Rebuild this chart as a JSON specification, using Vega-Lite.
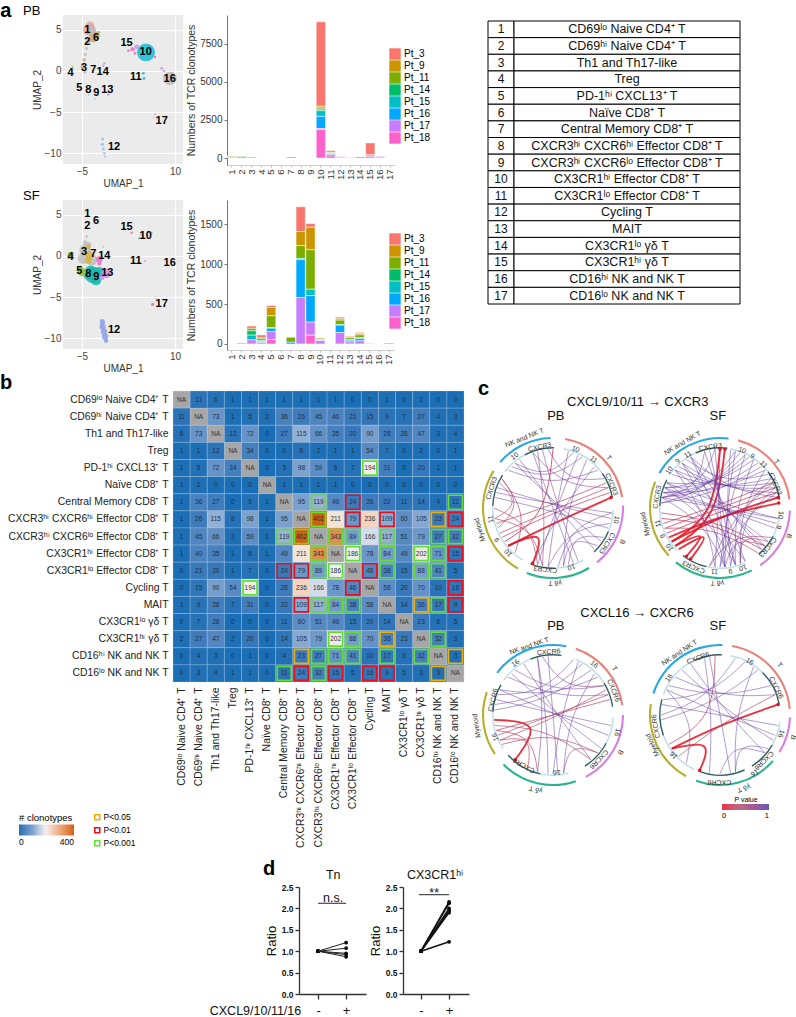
{"$schema":"https://vega.github.io/schema/vega-lite/v6.json","padding":0,"background":"white","config":{"font":"Liberation Sans","view":{"stroke":null},"axis":{"labelFont":"Liberation Sans","titleFont":"Liberation Sans","titleFontWeight":"normal","labelOverlap":false},"legend":{"labelFont":"Liberation Sans","titleFont":"Liberation Sans","titleFontWeight":"normal"}},
"datasets":{
"umapPB":[{"x":-3.81,"y":4.98,"g":"salmon","n":110},{"x":-3.7,"y":5.5,"g":"salmon","n":50},{"x":-3.33,"y":4.78,"g":"gray","n":50},{"x":-3.16,"y":3.97,"g":"tan","n":45},{"x":-2.73,"y":4.29,"g":"tan","n":40},{"x":-2.3,"y":4.69,"g":"green","n":6},{"x":-3.97,"y":3.64,"g":"gray","n":20},{"x":-4.24,"y":2.75,"g":"gray","n":8},{"x":-4.45,"y":2.02,"g":"gray","n":8},{"x":-4.67,"y":1.33,"g":"tan","n":8},{"x":-4.88,"y":0.52,"g":"tan","n":14},{"x":-4.51,"y":-0.08,"g":"gray","n":10},{"x":-6.5,"y":0.52,"g":"olive","n":3},{"x":-1.39,"y":0.93,"g":"orchid","n":4},{"x":-1.55,"y":0.64,"g":"orchid","n":4},{"x":-0.21,"y":-1.79,"g":"peri","n":3},{"x":-0.75,"y":-2.84,"g":"peri","n":4},{"x":-3.97,"y":-2.92,"g":"teal","n":1},{"x":-2.9,"y":-3.4,"g":"blue","n":2},{"x":2.48,"y":2.47,"g":"magenta","n":6},{"x":3.18,"y":2.63,"g":"magenta","n":14},{"x":3.82,"y":2.95,"g":"orchid","n":14},{"x":3.56,"y":2.14,"g":"magenta","n":6},{"x":5.33,"y":2.26,"g":"cyan","n":230},{"x":6.78,"y":1.7,"g":"magenta","n":5},{"x":4.9,"y":-0.29,"g":"cyan","n":6},{"x":5,"y":-0.9,"g":"cyan","n":6},{"x":7.86,"y":0.32,"g":"orchid","n":5},{"x":8.23,"y":0,"g":"orchid","n":5},{"x":9.2,"y":-0.9,"g":"gray","n":130},{"x":9.47,"y":-0.29,"g":"salmon","n":8},{"x":8.66,"y":-0.61,"g":"salmon","n":6},{"x":6.78,"y":-5.27,"g":"pink","n":2},{"x":6.51,"y":-5.67,"g":"gray","n":1},{"x":-1.66,"y":-8.27,"g":"blue","n":6},{"x":-1.71,"y":-8.91,"g":"blue","n":8},{"x":-1.55,"y":-9.48,"g":"blue","n":6},{"x":-1.39,"y":-10,"g":"blue","n":4},{"x":-1.28,"y":-10.4,"g":"blue","n":3}],
"umapSF":[{"x":-4.51,"y":0.73,"g":"gray","n":90},{"x":-3.97,"y":1.33,"g":"gray","n":25},{"x":-4.78,"y":-0.29,"g":"gray","n":90},{"x":-3.43,"y":-0.49,"g":"gray","n":90},{"x":-4.51,"y":1.62,"g":"gray","n":15},{"x":-4.24,"y":2.35,"g":"gray","n":5},{"x":-3.81,"y":0.12,"g":"gold","n":50},{"x":-3.97,"y":-0.57,"g":"gold","n":30},{"x":-3.97,"y":1.13,"g":"gold","n":15},{"x":-3.16,"y":-2.31,"g":"teal","n":200},{"x":-3.6,"y":-1.83,"g":"teal","n":90},{"x":-2.73,"y":-2.92,"g":"teal","n":80},{"x":-2.2,"y":-1.91,"g":"teal","n":60},{"x":-3.97,"y":-2.31,"g":"teal","n":70},{"x":-5.05,"y":-1.91,"g":"lime","n":50},{"x":-5.31,"y":-1.5,"g":"lime","n":20},{"x":-6.82,"y":0.12,"g":"olive","n":30},{"x":-2.2,"y":-0.41,"g":"magenta","n":30},{"x":-2.2,"y":-0.9,"g":"magenta","n":14},{"x":-1.12,"y":-2.11,"g":"orchid","n":70},{"x":-1.82,"y":-2.6,"g":"orchid","n":20},{"x":-1.55,"y":1.13,"g":"gray","n":3},{"x":3.02,"y":2.83,"g":"pink","n":4},{"x":4.63,"y":2.55,"g":"blue","n":4},{"x":5.71,"y":2.95,"g":"blue","n":4},{"x":6.24,"y":2.83,"g":"blue","n":4},{"x":4.25,"y":2.14,"g":"teal","n":3},{"x":5.17,"y":-0.61,"g":"orchid","n":3},{"x":-1.71,"y":-7.98,"g":"peri","n":20},{"x":-1.66,"y":-8.59,"g":"peri","n":28},{"x":-1.44,"y":-9.2,"g":"peri","n":28},{"x":-1.28,"y":-9.8,"g":"peri","n":28},{"x":-1.12,"y":-10.3,"g":"peri","n":14},{"x":6.41,"y":-5.88,"g":"pink","n":8},{"x":6.94,"y":-5.27,"g":"gray","n":3}],
"labPB":[{"x":-4.14,"y":4.94,"t":"1"},{"x":-2.74,"y":4.04,"t":"6"},{"x":-4.14,"y":3.48,"t":"2"},{"x":2.2,"y":3.4,"t":"15"},{"x":5.28,"y":2.3,"t":"10"},{"x":-4.67,"y":0.32,"t":"3"},{"x":-3.17,"y":0.16,"t":"7"},{"x":-1.66,"y":-0.13,"t":"14"},{"x":-6.82,"y":-0.28,"t":"4"},{"x":3.67,"y":-0.73,"t":"11"},{"x":9.15,"y":-1,"t":"16"},{"x":-5.43,"y":-2.03,"t":"5"},{"x":-3.98,"y":-2.35,"t":"8"},{"x":-2.69,"y":-2.68,"t":"9"},{"x":-0.91,"y":-2.27,"t":"13"},{"x":7.86,"y":-6.04,"t":"17"},{"x":0.17,"y":-9.2,"t":"12"}],
"labSF":[{"x":-4.14,"y":5.1,"t":"1"},{"x":-2.74,"y":4.25,"t":"6"},{"x":-4.14,"y":3.65,"t":"2"},{"x":2.2,"y":3.55,"t":"15"},{"x":5.28,"y":2.42,"t":"10"},{"x":-4.67,"y":0.47,"t":"3"},{"x":-3.17,"y":0.28,"t":"7"},{"x":-1.4,"y":-0.05,"t":"14"},{"x":-6.82,"y":-0.12,"t":"4"},{"x":3.67,"y":-0.65,"t":"11"},{"x":9.15,"y":-0.88,"t":"16"},{"x":-5.43,"y":-1.87,"t":"5"},{"x":-3.98,"y":-2.19,"t":"8"},{"x":-2.69,"y":-2.52,"t":"9"},{"x":-0.91,"y":-2.11,"t":"13"},{"x":7.86,"y":-5.88,"t":"17"},{"x":0.17,"y":-9.04,"t":"12"}],
"barsPB":[{"k":1,"pt":"Pt_3","n":3,"v":10},{"k":1,"pt":"Pt_9","n":9,"v":20},{"k":1,"pt":"Pt_11","n":11,"v":70},{"k":1,"pt":"Pt_14","n":14,"v":30},{"k":2,"pt":"Pt_11","n":11,"v":50},{"k":2,"pt":"Pt_14","n":14,"v":20},{"k":2,"pt":"Pt_16","n":16,"v":60},{"k":3,"pt":"Pt_14","n":14,"v":50},{"k":7,"pt":"Pt_16","n":16,"v":60},{"k":10,"pt":"Pt_3","n":3,"v":5550},{"k":10,"pt":"Pt_9","n":9,"v":120},{"k":10,"pt":"Pt_11","n":11,"v":70},{"k":10,"pt":"Pt_14","n":14,"v":100},{"k":10,"pt":"Pt_15","n":15,"v":370},{"k":10,"pt":"Pt_16","n":16,"v":810},{"k":10,"pt":"Pt_17","n":17,"v":50},{"k":10,"pt":"Pt_18","n":18,"v":1880},{"k":11,"pt":"Pt_3","n":3,"v":110},{"k":11,"pt":"Pt_9","n":9,"v":30},{"k":11,"pt":"Pt_11","n":11,"v":30},{"k":11,"pt":"Pt_14","n":14,"v":30},{"k":11,"pt":"Pt_15","n":15,"v":50},{"k":11,"pt":"Pt_16","n":16,"v":100},{"k":11,"pt":"Pt_18","n":18,"v":130},{"k":12,"pt":"Pt_3","n":3,"v":10},{"k":12,"pt":"Pt_17","n":17,"v":50},{"k":12,"pt":"Pt_18","n":18,"v":40},{"k":13,"pt":"Pt_3","n":3,"v":30},{"k":13,"pt":"Pt_9","n":9,"v":10},{"k":13,"pt":"Pt_17","n":17,"v":20},{"k":14,"pt":"Pt_15","n":15,"v":70},{"k":15,"pt":"Pt_3","n":3,"v":790},{"k":15,"pt":"Pt_15","n":15,"v":20},{"k":15,"pt":"Pt_16","n":16,"v":80},{"k":15,"pt":"Pt_18","n":18,"v":100},{"k":16,"pt":"Pt_3","n":3,"v":10},{"k":16,"pt":"Pt_17","n":17,"v":60},{"k":16,"pt":"Pt_18","n":18,"v":50}],
"barsSF":[{"k":2,"pt":"Pt_15","n":15,"v":10},{"k":3,"pt":"Pt_3","n":3,"v":30},{"k":3,"pt":"Pt_11","n":11,"v":30},{"k":3,"pt":"Pt_14","n":14,"v":55},{"k":3,"pt":"Pt_15","n":15,"v":60},{"k":3,"pt":"Pt_17","n":17,"v":50},{"k":4,"pt":"Pt_3","n":3,"v":38},{"k":4,"pt":"Pt_9","n":9,"v":5},{"k":4,"pt":"Pt_11","n":11,"v":25},{"k":4,"pt":"Pt_14","n":14,"v":10},{"k":4,"pt":"Pt_15","n":15,"v":10},{"k":4,"pt":"Pt_16","n":16,"v":10},{"k":4,"pt":"Pt_17","n":17,"v":15},{"k":5,"pt":"Pt_3","n":3,"v":25},{"k":5,"pt":"Pt_9","n":9,"v":105},{"k":5,"pt":"Pt_11","n":11,"v":150},{"k":5,"pt":"Pt_15","n":15,"v":5},{"k":5,"pt":"Pt_16","n":16,"v":42},{"k":5,"pt":"Pt_17","n":17,"v":100},{"k":5,"pt":"Pt_18","n":18,"v":55},{"k":7,"pt":"Pt_11","n":11,"v":64},{"k":7,"pt":"Pt_16","n":16,"v":20},{"k":8,"pt":"Pt_3","n":3,"v":310},{"k":8,"pt":"Pt_9","n":9,"v":177},{"k":8,"pt":"Pt_11","n":11,"v":160},{"k":8,"pt":"Pt_14","n":14,"v":16},{"k":8,"pt":"Pt_16","n":16,"v":475},{"k":8,"pt":"Pt_17","n":17,"v":580},{"k":9,"pt":"Pt_3","n":3,"v":46},{"k":9,"pt":"Pt_9","n":9,"v":282},{"k":9,"pt":"Pt_11","n":11,"v":495},{"k":9,"pt":"Pt_15","n":15,"v":80},{"k":9,"pt":"Pt_16","n":16,"v":332},{"k":9,"pt":"Pt_17","n":17,"v":163},{"k":9,"pt":"Pt_18","n":18,"v":110},{"k":10,"pt":"Pt_11","n":11,"v":16},{"k":10,"pt":"Pt_15","n":15,"v":5},{"k":10,"pt":"Pt_16","n":16,"v":8},{"k":10,"pt":"Pt_17","n":17,"v":42},{"k":12,"pt":"Pt_3","n":3,"v":21},{"k":12,"pt":"Pt_9","n":9,"v":17},{"k":12,"pt":"Pt_11","n":11,"v":58},{"k":12,"pt":"Pt_15","n":15,"v":5},{"k":12,"pt":"Pt_16","n":16,"v":92},{"k":12,"pt":"Pt_17","n":17,"v":143},{"k":13,"pt":"Pt_3","n":3,"v":12},{"k":13,"pt":"Pt_9","n":9,"v":5},{"k":13,"pt":"Pt_11","n":11,"v":24},{"k":13,"pt":"Pt_15","n":15,"v":10},{"k":13,"pt":"Pt_16","n":16,"v":21},{"k":13,"pt":"Pt_17","n":17,"v":25},{"k":14,"pt":"Pt_3","n":3,"v":13},{"k":14,"pt":"Pt_9","n":9,"v":17},{"k":14,"pt":"Pt_11","n":11,"v":33},{"k":14,"pt":"Pt_15","n":15,"v":13},{"k":14,"pt":"Pt_16","n":16,"v":29},{"k":14,"pt":"Pt_17","n":17,"v":38},{"k":15,"pt":"Pt_3","n":3,"v":3},{"k":15,"pt":"Pt_9","n":9,"v":5},{"k":17,"pt":"Pt_16","n":16,"v":10}],
"table":[{"n":1,"t":"CD69ˡᵒ Naive CD4⁺ T"},{"n":2,"t":"CD69ʰⁱ Naive CD4⁺ T"},{"n":3,"t":"Th1 and Th17-like"},{"n":4,"t":"Treg"},{"n":5,"t":"PD-1ʰⁱ CXCL13⁺ T"},{"n":6,"t":"Naïve CD8⁺ T"},{"n":7,"t":"Central Memory CD8⁺ T"},{"n":8,"t":"CXCR3ʰⁱ CXCR6ʰⁱ Effector CD8⁺ T"},{"n":9,"t":"CXCR3ʰⁱ CXCR6ˡᵒ Effector CD8⁺ T"},{"n":10,"t":"CX3CR1ʰⁱ Effector CD8⁺ T"},{"n":11,"t":"CX3CR1ˡᵒ Effector CD8⁺ T"},{"n":12,"t":"Cycling T"},{"n":13,"t":"MAIT"},{"n":14,"t":"CX3CR1ˡᵒ γδ T"},{"n":15,"t":"CX3CR1ʰⁱ γδ T"},{"n":16,"t":"CD16ʰⁱ NK and NK T"},{"n":17,"t":"CD16ˡᵒ NK and NK T"}],
"heat":[{"r":1,"c":1,"v":null},{"r":1,"c":2,"v":11},{"r":1,"c":3,"v":6},{"r":1,"c":4,"v":1},{"r":1,"c":5,"v":1},{"r":1,"c":6,"v":1},{"r":1,"c":7,"v":1},{"r":1,"c":8,"v":1},{"r":1,"c":9,"v":1},{"r":1,"c":10,"v":1},{"r":1,"c":11,"v":0},{"r":1,"c":12,"v":0},{"r":1,"c":13,"v":1},{"r":1,"c":14,"v":0},{"r":1,"c":15,"v":2},{"r":1,"c":16,"v":0},{"r":1,"c":17,"v":0},
{"r":2,"c":1,"v":11},{"r":2,"c":2,"v":null},{"r":2,"c":3,"v":73},{"r":2,"c":4,"v":1},{"r":2,"c":5,"v":5},{"r":2,"c":6,"v":2},{"r":2,"c":7,"v":36},{"r":2,"c":8,"v":26},{"r":2,"c":9,"v":45},{"r":2,"c":10,"v":40},{"r":2,"c":11,"v":21},{"r":2,"c":12,"v":15},{"r":2,"c":13,"v":9},{"r":2,"c":14,"v":7},{"r":2,"c":15,"v":27},{"r":2,"c":16,"v":4},{"r":2,"c":17,"v":3},
{"r":3,"c":1,"v":6},{"r":3,"c":2,"v":73},{"r":3,"c":3,"v":null},{"r":3,"c":4,"v":12},{"r":3,"c":5,"v":72},{"r":3,"c":6,"v":0},{"r":3,"c":7,"v":27},{"r":3,"c":8,"v":115},{"r":3,"c":9,"v":66},{"r":3,"c":10,"v":35},{"r":3,"c":11,"v":20},{"r":3,"c":12,"v":90},{"r":3,"c":13,"v":28},{"r":3,"c":14,"v":28},{"r":3,"c":15,"v":47},{"r":3,"c":16,"v":3},{"r":3,"c":17,"v":4},
{"r":4,"c":1,"v":1},{"r":4,"c":2,"v":1},{"r":4,"c":3,"v":12},{"r":4,"c":4,"v":null},{"r":4,"c":5,"v":34},{"r":4,"c":6,"v":0},{"r":4,"c":7,"v":0},{"r":4,"c":8,"v":8},{"r":4,"c":9,"v":2},{"r":4,"c":10,"v":1},{"r":4,"c":11,"v":1},{"r":4,"c":12,"v":54},{"r":4,"c":13,"v":7},{"r":4,"c":14,"v":0},{"r":4,"c":15,"v":2},{"r":4,"c":16,"v":0},{"r":4,"c":17,"v":1},
{"r":5,"c":1,"v":1},{"r":5,"c":2,"v":5},{"r":5,"c":3,"v":72},{"r":5,"c":4,"v":34},{"r":5,"c":5,"v":null},{"r":5,"c":6,"v":0},{"r":5,"c":7,"v":5},{"r":5,"c":8,"v":98},{"r":5,"c":9,"v":59},{"r":5,"c":10,"v":6},{"r":5,"c":11,"v":7},{"r":5,"c":12,"v":194,"s":0.001},{"r":5,"c":13,"v":31},{"r":5,"c":14,"v":0},{"r":5,"c":15,"v":20},{"r":5,"c":16,"v":1},{"r":5,"c":17,"v":1},
{"r":6,"c":1,"v":1},{"r":6,"c":2,"v":2},{"r":6,"c":3,"v":0},{"r":6,"c":4,"v":0},{"r":6,"c":5,"v":0},{"r":6,"c":6,"v":null},{"r":6,"c":7,"v":1},{"r":6,"c":8,"v":1},{"r":6,"c":9,"v":1},{"r":6,"c":10,"v":1},{"r":6,"c":11,"v":0},{"r":6,"c":12,"v":0},{"r":6,"c":13,"v":0},{"r":6,"c":14,"v":0},{"r":6,"c":15,"v":0},{"r":6,"c":16,"v":0},{"r":6,"c":17,"v":0},
{"r":7,"c":1,"v":1},{"r":7,"c":2,"v":36},{"r":7,"c":3,"v":27},{"r":7,"c":4,"v":0},{"r":7,"c":5,"v":5},{"r":7,"c":6,"v":1},{"r":7,"c":7,"v":null},{"r":7,"c":8,"v":95},{"r":7,"c":9,"v":119,"s":0.001},{"r":7,"c":10,"v":49},{"r":7,"c":11,"v":24,"s":0.01},{"r":7,"c":12,"v":26},{"r":7,"c":13,"v":22},{"r":7,"c":14,"v":11},{"r":7,"c":15,"v":14},{"r":7,"c":16,"v":4},{"r":7,"c":17,"v":11,"s":0.001},
{"r":8,"c":1,"v":1},{"r":8,"c":2,"v":26},{"r":8,"c":3,"v":115},{"r":8,"c":4,"v":8},{"r":8,"c":5,"v":98},{"r":8,"c":6,"v":1},{"r":8,"c":7,"v":95},{"r":8,"c":8,"v":null},{"r":8,"c":9,"v":402,"s":0.001},{"r":8,"c":10,"v":211},{"r":8,"c":11,"v":79,"s":0.01},{"r":8,"c":12,"v":236},{"r":8,"c":13,"v":109,"s":0.01},{"r":8,"c":14,"v":60},{"r":8,"c":15,"v":105},{"r":8,"c":16,"v":23,"s":0.05},{"r":8,"c":17,"v":24,"s":0.01},
{"r":9,"c":1,"v":1},{"r":9,"c":2,"v":45},{"r":9,"c":3,"v":66},{"r":9,"c":4,"v":2},{"r":9,"c":5,"v":59},{"r":9,"c":6,"v":1},{"r":9,"c":7,"v":119,"s":0.001},{"r":9,"c":8,"v":402,"s":0.001},{"r":9,"c":9,"v":null},{"r":9,"c":10,"v":343,"s":0.001},{"r":9,"c":11,"v":89,"s":0.001},{"r":9,"c":12,"v":166},{"r":9,"c":13,"v":117,"s":0.001},{"r":9,"c":14,"v":51},{"r":9,"c":15,"v":79},{"r":9,"c":16,"v":27,"s":0.001},{"r":9,"c":17,"v":32,"s":0.001},
{"r":10,"c":1,"v":1},{"r":10,"c":2,"v":40},{"r":10,"c":3,"v":35},{"r":10,"c":4,"v":1},{"r":10,"c":5,"v":6},{"r":10,"c":6,"v":1},{"r":10,"c":7,"v":49},{"r":10,"c":8,"v":211},{"r":10,"c":9,"v":343,"s":0.001},{"r":10,"c":10,"v":null},{"r":10,"c":11,"v":186,"s":0.001},{"r":10,"c":12,"v":78},{"r":10,"c":13,"v":84,"s":0.001},{"r":10,"c":14,"v":49},{"r":10,"c":15,"v":202,"s":0.001},{"r":10,"c":16,"v":71,"s":0.001},{"r":10,"c":17,"v":15,"s":0.01},
{"r":11,"c":1,"v":0},{"r":11,"c":2,"v":21},{"r":11,"c":3,"v":20},{"r":11,"c":4,"v":1},{"r":11,"c":5,"v":7},{"r":11,"c":6,"v":0},{"r":11,"c":7,"v":24,"s":0.01},{"r":11,"c":8,"v":79,"s":0.01},{"r":11,"c":9,"v":89,"s":0.001},{"r":11,"c":10,"v":186,"s":0.001},{"r":11,"c":11,"v":null},{"r":11,"c":12,"v":46,"s":0.01},{"r":11,"c":13,"v":38,"s":0.001},{"r":11,"c":14,"v":15},{"r":11,"c":15,"v":88,"s":0.001},{"r":11,"c":16,"v":41,"s":0.001},{"r":11,"c":17,"v":5},
{"r":12,"c":1,"v":0},{"r":12,"c":2,"v":15},{"r":12,"c":3,"v":90},{"r":12,"c":4,"v":54},{"r":12,"c":5,"v":194,"s":0.001},{"r":12,"c":6,"v":0},{"r":12,"c":7,"v":26},{"r":12,"c":8,"v":236},{"r":12,"c":9,"v":166},{"r":12,"c":10,"v":78},{"r":12,"c":11,"v":46,"s":0.01},{"r":12,"c":12,"v":null},{"r":12,"c":13,"v":58},{"r":12,"c":14,"v":20},{"r":12,"c":15,"v":70},{"r":12,"c":16,"v":10},{"r":12,"c":17,"v":16,"s":0.01},
{"r":13,"c":1,"v":1},{"r":13,"c":2,"v":9},{"r":13,"c":3,"v":28},{"r":13,"c":4,"v":7},{"r":13,"c":5,"v":31},{"r":13,"c":6,"v":0},{"r":13,"c":7,"v":22},{"r":13,"c":8,"v":109,"s":0.01},{"r":13,"c":9,"v":117,"s":0.001},{"r":13,"c":10,"v":84,"s":0.001},{"r":13,"c":11,"v":38,"s":0.001},{"r":13,"c":12,"v":58},{"r":13,"c":13,"v":null},{"r":13,"c":14,"v":14},{"r":13,"c":15,"v":36,"s":0.05},{"r":13,"c":16,"v":17,"s":0.001},{"r":13,"c":17,"v":9,"s":0.01},
{"r":14,"c":1,"v":0},{"r":14,"c":2,"v":7},{"r":14,"c":3,"v":28},{"r":14,"c":4,"v":0},{"r":14,"c":5,"v":0},{"r":14,"c":6,"v":0},{"r":14,"c":7,"v":11},{"r":14,"c":8,"v":60},{"r":14,"c":9,"v":51},{"r":14,"c":10,"v":49},{"r":14,"c":11,"v":15},{"r":14,"c":12,"v":20},{"r":14,"c":13,"v":14},{"r":14,"c":14,"v":null},{"r":14,"c":15,"v":23},{"r":14,"c":16,"v":6},{"r":14,"c":17,"v":5},
{"r":15,"c":1,"v":2},{"r":15,"c":2,"v":27},{"r":15,"c":3,"v":47},{"r":15,"c":4,"v":2},{"r":15,"c":5,"v":20},{"r":15,"c":6,"v":0},{"r":15,"c":7,"v":14},{"r":15,"c":8,"v":105},{"r":15,"c":9,"v":79},{"r":15,"c":10,"v":202,"s":0.001},{"r":15,"c":11,"v":88,"s":0.001},{"r":15,"c":12,"v":70},{"r":15,"c":13,"v":36,"s":0.05},{"r":15,"c":14,"v":23},{"r":15,"c":15,"v":null},{"r":15,"c":16,"v":32,"s":0.001},{"r":15,"c":17,"v":3},
{"r":16,"c":1,"v":0},{"r":16,"c":2,"v":4},{"r":16,"c":3,"v":3},{"r":16,"c":4,"v":0},{"r":16,"c":5,"v":1},{"r":16,"c":6,"v":0},{"r":16,"c":7,"v":4},{"r":16,"c":8,"v":23,"s":0.05},{"r":16,"c":9,"v":27,"s":0.001},{"r":16,"c":10,"v":71,"s":0.001},{"r":16,"c":11,"v":41,"s":0.001},{"r":16,"c":12,"v":10},{"r":16,"c":13,"v":17,"s":0.001},{"r":16,"c":14,"v":6},{"r":16,"c":15,"v":32,"s":0.001},{"r":16,"c":16,"v":null},{"r":16,"c":17,"v":3,"s":0.05},
{"r":17,"c":1,"v":0},{"r":17,"c":2,"v":3},{"r":17,"c":3,"v":4},{"r":17,"c":4,"v":1},{"r":17,"c":5,"v":1},{"r":17,"c":6,"v":0},{"r":17,"c":7,"v":11,"s":0.001},{"r":17,"c":8,"v":24,"s":0.01},{"r":17,"c":9,"v":32,"s":0.001},{"r":17,"c":10,"v":15,"s":0.01},{"r":17,"c":11,"v":5},{"r":17,"c":12,"v":16,"s":0.01},{"r":17,"c":13,"v":9,"s":0.01},{"r":17,"c":14,"v":5},{"r":17,"c":15,"v":3},{"r":17,"c":16,"v":3,"s":0.05},{"r":17,"c":17,"v":null}],
"arcs1":[{"s":"T","a0":10,"a1":81,"r0":0.985,"r1":1.015},{"s":"B","a0":88,"a1":141,"r0":0.985,"r1":1.015},{"s":"gd","a0":149,"a1":202,"r0":0.985,"r1":1.015},{"s":"My","a0":210,"a1":302,"r0":0.985,"r1":1.015},{"s":"NK","a0":311,"a1":358,"r0":0.985,"r1":1.015},{"s":"ring","a0":10,"a1":55,"r0":0.85,"r1":0.87},{"s":"rec","a0":55,"a1":80,"r0":0.85,"r1":0.87},{"s":"ring","a0":92,"a1":113,"r0":0.85,"r1":0.87},{"s":"rec","a0":113,"a1":137,"r0":0.85,"r1":0.87},{"s":"ring","a0":150,"a1":178,"r0":0.85,"r1":0.87},{"s":"rec","a0":178,"a1":202,"r0":0.85,"r1":0.87},{"s":"ring","a0":210,"a1":272,"r0":0.85,"r1":0.87},{"s":"rec","a0":272,"a1":303,"r0":0.85,"r1":0.87},{"s":"ring","a0":307,"a1":332,"r0":0.85,"r1":0.87},{"s":"rec","a0":332,"a1":361,"r0":0.85,"r1":0.87}],
"arcs2":[{"s":"T","a0":15,"a1":83,"r0":0.985,"r1":1.015},{"s":"B","a0":92,"a1":145,"r0":0.985,"r1":1.015},{"s":"gd","a0":153,"a1":219,"r0":0.985,"r1":1.015},{"s":"My","a0":227,"a1":292,"r0":0.985,"r1":1.015},{"s":"NK","a0":300,"a1":367,"r0":0.985,"r1":1.015},{"s":"ring","a0":10,"a1":53,"r0":0.85,"r1":0.87},{"s":"rec","a0":53,"a1":82,"r0":0.85,"r1":0.87},{"s":"ring","a0":95,"a1":118,"r0":0.85,"r1":0.87},{"s":"rec","a0":118,"a1":140,"r0":0.85,"r1":0.87},{"s":"ring","a0":155,"a1":193,"r0":0.85,"r1":0.87},{"s":"rec","a0":193,"a1":218,"r0":0.85,"r1":0.87},{"s":"ring","a0":225,"a1":272,"r0":0.85,"r1":0.87},{"s":"rec","a0":272,"a1":298,"r0":0.85,"r1":0.87},{"s":"ring","a0":303,"a1":335,"r0":0.85,"r1":0.87},{"s":"rec","a0":336,"a1":367,"r0":0.85,"r1":0.87}],
"arcs3":[{"s":"T","a0":19,"a1":82,"r0":0.985,"r1":1.015},{"s":"B","a0":90,"a1":152,"r0":0.985,"r1":1.015},{"s":"gd","a0":161,"a1":225,"r0":0.985,"r1":1.015},{"s":"My","a0":236,"a1":289,"r0":0.985,"r1":1.015},{"s":"NK","a0":307,"a1":371,"r0":0.985,"r1":1.015},{"s":"ring","a0":22,"a1":58,"r0":0.85,"r1":0.87},{"s":"rec","a0":58,"a1":82,"r0":0.85,"r1":0.87},{"s":"ring","a0":92,"a1":118,"r0":0.85,"r1":0.87},{"s":"rec","a0":118,"a1":148,"r0":0.85,"r1":0.87},{"s":"ring","a0":165,"a1":192,"r0":0.85,"r1":0.87},{"s":"rec","a0":192,"a1":228,"r0":0.85,"r1":0.87},{"s":"ring","a0":236,"a1":273,"r0":0.85,"r1":0.87},{"s":"rec","a0":273,"a1":300,"r0":0.85,"r1":0.87},{"s":"ring","a0":305,"a1":338,"r0":0.85,"r1":0.87},{"s":"rec","a0":338,"a1":368,"r0":0.85,"r1":0.87}],
"arcs4":[{"s":"T","a0":10,"a1":85,"r0":0.985,"r1":1.015},{"s":"B","a0":92,"a1":122,"r0":0.985,"r1":1.015},{"s":"gd","a0":131,"a1":200,"r0":0.985,"r1":1.015},{"s":"My","a0":209,"a1":279,"r0":0.985,"r1":1.015},{"s":"NK","a0":288,"a1":362,"r0":0.985,"r1":1.015},{"s":"ring","a0":10,"a1":45,"r0":0.85,"r1":0.87},{"s":"rec","a0":45,"a1":80,"r0":0.85,"r1":0.87},{"s":"ring","a0":97,"a1":120,"r0":0.85,"r1":0.87},{"s":"rec","a0":120,"a1":148,"r0":0.85,"r1":0.87},{"s":"rec","a0":156,"a1":201,"r0":0.85,"r1":0.87},{"s":"ring","a0":205,"a1":250,"r0":0.85,"r1":0.87},{"s":"rec","a0":250,"a1":285,"r0":0.85,"r1":0.87},{"s":"ring","a0":290,"a1":335,"r0":0.85,"r1":0.87},{"s":"rec","a0":335,"a1":362,"r0":0.85,"r1":0.87}],
"lab1":[{"t":"NK and NK T","th":338,"r":1.08},{"t":"T","th":48,"r":1.07},{"t":"B","th":116,"r":1.1},{"t":"γδ T","th":178.5,"r":1.07},{"t":"Myeloid","th":253.5,"r":1.09},{"t":"CXCR3","th":347.6,"r":0.89},{"t":"10","th":323.5,"r":0.92},{"t":"10","th":21,"r":0.9},{"t":"11","th":40,"r":0.9},{"t":"CXCR3","th":68,"r":0.9},{"t":"10","th":100.5,"r":0.92},{"t":"CXCR3","th":123,"r":0.92},{"t":"10","th":162.6,"r":0.88},{"t":"CXCR3","th":187,"r":0.88},{"t":"10","th":225,"r":0.9},{"t":"9","th":240.4,"r":0.92},{"t":"11","th":259.8,"r":0.9},{"t":"CXCR3","th":288,"r":0.92}],
"lab2":[{"t":"NK and NK T","th":330,"r":1.07},{"t":"T","th":50.8,"r":1.04},{"t":"B","th":112,"r":1.06},{"t":"γδ T","th":182,"r":1.07},{"t":"Myeloid","th":258,"r":1.09},{"t":"CXCR3","th":351,"r":0.88},{"t":"11","th":329,"r":0.89},{"t":"9","th":318,"r":0.9},{"t":"10","th":306.6,"r":0.9},{"t":"10","th":21,"r":0.88},{"t":"9","th":32,"r":0.87},{"t":"11","th":45,"r":0.88},{"t":"CXCR3","th":66.5,"r":0.86},{"t":"10","th":96.5,"r":0.87},{"t":"9","th":108,"r":0.88},{"t":"CXCR3","th":129.4,"r":0.88},{"t":"10","th":159,"r":0.91},{"t":"9","th":170.5,"r":0.91},{"t":"11","th":185,"r":0.91},{"t":"CXCR3","th":204,"r":0.92},{"t":"10","th":232,"r":0.91},{"t":"9","th":244,"r":0.91},{"t":"11","th":256,"r":0.91},{"t":"CXCR3","th":280,"r":0.91}],
"lab3":[{"t":"NK and NK T","th":341,"r":1.04},{"t":"T","th":53,"r":1.1},{"t":"B","th":119,"r":1.1},{"t":"γδ T","th":193,"r":1.09},{"t":"Myeloid","th":262,"r":1.1},{"t":"CXCR6","th":356,"r":0.9},{"t":"16","th":324,"r":0.91},{"t":"16","th":39,"r":0.93},{"t":"CXCR6","th":68,"r":0.93},{"t":"16","th":105,"r":0.95},{"t":"CXCR6","th":134,"r":0.91},{"t":"16","th":176,"r":0.82},{"t":"CXCR6","th":210,"r":0.83},{"t":"16","th":249,"r":0.88},{"t":"CXCR6","th":284,"r":0.88}],
"lab4":[{"t":"NK and NK T","th":327,"r":1.06},{"t":"T","th":50,"r":1.11},{"t":"B","th":107,"r":1.09},{"t":"Myeloid","th":246,"r":1.05},{"t":"γδ T","th":162,"r":1.1},{"t":"CXCR6","th":339,"r":0.87},{"t":"16","th":306,"r":0.9},{"t":"16","th":29,"r":0.87},{"t":"CXCR6","th":64,"r":0.89},{"t":"16","th":107,"r":0.91},{"t":"CXCR6","th":136,"r":0.9},{"t":"16","th":149,"r":0.96},{"t":"CXCR6","th":180.5,"r":0.96},{"t":"16","th":229,"r":0.87},{"t":"CXCR6","th":260,"r":0.93}],
"c1":[{"i":1,"p":0,"x":-0.64,"y":-0.54},{"i":1,"p":0,"x":0.05,"y":-0.2},{"i":1,"p":0,"x":0.83,"y":0.15},{"i":2,"p":0,"x":-0.64,"y":-0.54},{"i":2,"p":0,"x":-0.1,"y":-0.3},{"i":2,"p":0,"x":-0.29,"y":-0.79},{"i":3,"p":0.1,"x":-0.69,"y":-0.48},{"i":3,"p":0.1,"x":-0.1,"y":-0.1},{"i":3,"p":0.1,"x":0,"y":0.84},{"i":4,"p":0.25,"x":-0.73,"y":-0.42},{"i":4,"p":0.25,"x":0.02,"y":-0.06},{"i":4,"p":0.25,"x":0.81,"y":0.22},{"i":5,"p":0.3,"x":-0.76,"y":-0.36},{"i":5,"p":0.3,"x":0.01,"y":-0.02},{"i":5,"p":0.3,"x":0.79,"y":0.29},{"i":6,"p":0.3,"x":-0.81,"y":-0.22},{"i":6,"p":0.3,"x":-0.01,"y":0.04},{"i":6,"p":0.3,"x":0.76,"y":0.36},{"i":7,"p":0.35,"x":-0.83,"y":-0.15},{"i":7,"p":0.35,"x":-0.29,"y":-0.29},{"i":7,"p":0.35,"x":-0.15,"y":-0.83},{"i":8,"p":0.35,"x":-0.84,"y":0},{"i":8,"p":0.35,"x":-0.32,"y":-0.24},{"i":8,"p":0.35,"x":-0.22,"y":-0.81},{"i":9,"p":0.3,"x":-0.54,"y":-0.64},{"i":9,"p":0.3,"x":-0.38,"y":-0.07},{"i":9,"p":0.3,"x":-0.73,"y":0.42},{"i":10,"p":0.35,"x":-0.79,"y":-0.29},{"i":10,"p":0.35,"x":-0.46,"y":0.04},{"i":10,"p":0.35,"x":-0.73,"y":0.42},{"i":11,"p":0.4,"x":-0.83,"y":-0.15},{"i":11,"p":0.4,"x":-0.48,"y":0.06},{"i":11,"p":0.4,"x":-0.76,"y":0.36},{"i":12,"p":0.85,"x":0.22,"y":0.81},{"i":12,"p":0.85,"x":0.04,"y":-0.01},{"i":12,"p":0.85,"x":-0.07,"y":-0.84},{"i":13,"p":0.85,"x":0.36,"y":0.76},{"i":13,"p":0.85,"x":0.04,"y":-0.01},{"i":13,"p":0.85,"x":-0.22,"y":-0.81},{"i":14,"p":0.9,"x":0.48,"y":0.69},{"i":14,"p":0.9,"x":0.19,"y":-0.04},{"i":14,"p":0.9,"x":0.15,"y":-0.83},{"i":15,"p":0.9,"x":0.59,"y":0.59},{"i":15,"p":0.9,"x":0.09,"y":-0.06},{"i":15,"p":0.9,"x":-0.29,"y":-0.79},{"i":16,"p":0.85,"x":0.64,"y":0.54},{"i":16,"p":0.85,"x":0,"y":0.32},{"i":16,"p":0.85,"x":-0.64,"y":0.54},{"i":17,"p":0.9,"x":0.29,"y":0.79},{"i":17,"p":0.9,"x":-0.08,"y":0.43},{"i":17,"p":0.9,"x":-0.54,"y":0.64},{"i":18,"p":0.9,"x":0.42,"y":0.73},{"i":18,"p":0.9,"x":-0.05,"y":0.4},{"i":18,"p":0.9,"x":-0.59,"y":0.59},{"i":19,"p":0.85,"x":0.83,"y":-0.15},{"i":19,"p":0.85,"x":0.01,"y":0.04},{"i":19,"p":0.85,"x":-0.79,"y":0.29},{"i":20,"p":0.9,"x":0.79,"y":-0.29},{"i":20,"p":0.9,"x":-0.01,"y":-0.04},{"i":20,"p":0.9,"x":-0.83,"y":0.15},{"i":21,"p":0.85,"x":0.84,"y":-0.07},{"i":21,"p":0.85,"x":0.01,"y":0.05},{"i":21,"p":0.85,"x":-0.81,"y":0.22},{"i":22,"p":0.9,"x":0.22,"y":-0.81},{"i":22,"p":0.9,"x":0.29,"y":-0.37},{"i":22,"p":0.9,"x":0.73,"y":-0.42},{"i":23,"p":0.85,"x":0.15,"y":-0.83},{"i":23,"p":0.85,"x":0.24,"y":-0.41},{"i":23,"p":0.85,"x":0.64,"y":-0.54},{"i":24,"p":0.9,"x":0.29,"y":-0.79},{"i":24,"p":0.9,"x":0,"y":0},{"i":24,"p":0.9,"x":-0.29,"y":0.79},{"i":25,"p":0.85,"x":0.36,"y":-0.76},{"i":25,"p":0.85,"x":0.06,"y":0.02},{"i":25,"p":0.85,"x":-0.15,"y":0.83},{"i":26,"p":0.85,"x":-0.54,"y":0.64},{"i":26,"p":0.85,"x":0.05,"y":0.05},{"i":26,"p":0.85,"x":0.69,"y":-0.48},{"i":27,"p":0.9,"x":-0.48,"y":0.69},{"i":27,"p":0.9,"x":0.03,"y":0.03},{"i":27,"p":0.9,"x":0.59,"y":-0.59},{"i":28,"p":0.7,"x":-0.22,"y":0.81},{"i":28,"p":0.7,"x":-0.11,"y":-0.01},{"i":28,"p":0.7,"x":-0.15,"y":-0.83},{"i":29,"p":0.8,"x":-0.07,"y":0.84},{"i":29,"p":0.8,"x":0.2,"y":0.38},{"i":29,"p":0.8,"x":0.73,"y":0.42},{"i":30,"p":0.8,"x":-0.29,"y":0.79},{"i":30,"p":0.8,"x":0.15,"y":0.32},{"i":30,"p":0.8,"x":0.79,"y":0.29},{"i":31,"p":0.85,"x":-0.07,"y":-0.84},{"i":31,"p":0.85,"x":0.22,"y":-0.32},{"i":31,"p":0.85,"x":0.81,"y":-0.22},{"i":32,"p":0.85,"x":0.07,"y":-0.84},{"i":32,"p":0.85,"x":0.27,"y":-0.27},{"i":32,"p":0.85,"x":0.84,"y":-0.07}],
"c2":[{"i":1,"p":0,"x":-0.69,"y":-0.48},{"i":1,"p":0,"x":0.05,"y":-0.1},{"i":1,"p":0,"x":0.83,"y":0.15},{"i":2,"p":0,"x":-0.73,"y":-0.42},{"i":2,"p":0,"x":0.03,"y":-0.1},{"i":2,"p":0,"x":0.84,"y":0.07},{"i":3,"p":0,"x":-0.64,"y":-0.54},{"i":3,"p":0,"x":-0.05,"y":-0.15},{"i":3,"p":0,"x":0.07,"y":0.84},{"i":4,"p":0,"x":-0.69,"y":-0.48},{"i":4,"p":0,"x":-0.1,"y":-0.12},{"i":4,"p":0,"x":0,"y":0.84},{"i":5,"p":0,"x":-0.64,"y":-0.54},{"i":5,"p":0,"x":-0.15,"y":-0.3},{"i":5,"p":0,"x":-0.48,"y":-0.69},{"i":6,"p":0,"x":-0.59,"y":-0.59},{"i":6,"p":0,"x":-0.1,"y":-0.3},{"i":6,"p":0,"x":-0.42,"y":-0.73},{"i":7,"p":0.15,"x":-0.76,"y":-0.36},{"i":7,"p":0.15,"x":0.02,"y":-0.04},{"i":7,"p":0.15,"x":0.81,"y":0.22},{"i":8,"p":0.2,"x":-0.79,"y":-0.29},{"i":8,"p":0.2,"x":0,"y":0},{"i":8,"p":0.2,"x":0.79,"y":0.29},{"i":9,"p":0.25,"x":-0.81,"y":-0.22},{"i":9,"p":0.25,"x":-0.01,"y":0.04},{"i":9,"p":0.25,"x":0.76,"y":0.36},{"i":10,"p":0.2,"x":-0.83,"y":-0.15},{"i":10,"p":0.2,"x":-0.07,"y":-0.22},{"i":10,"p":0.2,"x":0.59,"y":-0.59},{"i":11,"p":0.25,"x":-0.84,"y":-0.07},{"i":11,"p":0.25,"x":-0.06,"y":-0.18},{"i":11,"p":0.25,"x":0.64,"y":-0.54},{"i":12,"p":0.3,"x":-0.79,"y":-0.29},{"i":12,"p":0.3,"x":-0.08,"y":-0.28},{"i":12,"p":0.3,"x":0.54,"y":-0.64},{"i":13,"p":0.9,"x":0.22,"y":0.81},{"i":13,"p":0.9,"x":-0.19,"y":0.26},{"i":13,"p":0.9,"x":-0.84,"y":0.07},{"i":14,"p":0.9,"x":0.29,"y":0.79},{"i":14,"p":0.9,"x":-0.16,"y":0.28},{"i":14,"p":0.9,"x":-0.83,"y":0.15},{"i":15,"p":0.9,"x":0.36,"y":0.76},{"i":15,"p":0.9,"x":-0.14,"y":0.29},{"i":15,"p":0.9,"x":-0.81,"y":0.22},{"i":16,"p":0.9,"x":0.42,"y":0.73},{"i":16,"p":0.9,"x":-0.11,"y":0.31},{"i":16,"p":0.9,"x":-0.79,"y":0.29},{"i":17,"p":0.9,"x":0.48,"y":0.69},{"i":17,"p":0.9,"x":-0.08,"y":0.32},{"i":17,"p":0.9,"x":-0.76,"y":0.36},{"i":18,"p":0.9,"x":0.54,"y":0.64},{"i":18,"p":0.9,"x":-0.09,"y":0.24},{"i":18,"p":0.9,"x":-0.83,"y":0.15},{"i":19,"p":0.9,"x":0.59,"y":0.59},{"i":19,"p":0.9,"x":-0.08,"y":0.2},{"i":19,"p":0.9,"x":-0.84,"y":0.07},{"i":20,"p":0.9,"x":0.64,"y":0.54},{"i":20,"p":0.9,"x":-0.05,"y":0.23},{"i":20,"p":0.9,"x":-0.81,"y":0.22},{"i":21,"p":0.9,"x":0.15,"y":0.83},{"i":21,"p":0.9,"x":0.09,"y":0},{"i":21,"p":0.9,"x":0.15,"y":-0.83},{"i":22,"p":0.9,"x":0.22,"y":0.81},{"i":22,"p":0.9,"x":0.09,"y":-0.01},{"i":22,"p":0.9,"x":0.07,"y":-0.84},{"i":23,"p":0.9,"x":0.36,"y":0.76},{"i":23,"p":0.9,"x":0.11,"y":-0.02},{"i":23,"p":0.9,"x":0,"y":-0.84},{"i":24,"p":0.9,"x":0.48,"y":0.69},{"i":24,"p":0.9,"x":0.21,"y":-0.04},{"i":24,"p":0.9,"x":0.22,"y":-0.81},{"i":25,"p":0.9,"x":0.64,"y":0.54},{"i":25,"p":0.9,"x":0.28,"y":-0.07},{"i":25,"p":0.9,"x":0.29,"y":-0.79},{"i":26,"p":0.9,"x":-0.69,"y":0.48},{"i":26,"p":0.9,"x":0.01,"y":0.27},{"i":26,"p":0.9,"x":0.73,"y":0.42},{"i":27,"p":0.9,"x":-0.64,"y":0.54},{"i":27,"p":0.9,"x":0.04,"y":0.27},{"i":27,"p":0.9,"x":0.76,"y":0.36},{"i":28,"p":0.9,"x":-0.59,"y":0.59},{"i":28,"p":0.9,"x":0.06,"y":0.26},{"i":28,"p":0.9,"x":0.79,"y":0.29},{"i":29,"p":0.9,"x":-0.54,"y":0.64},{"i":29,"p":0.9,"x":0.08,"y":0.26},{"i":29,"p":0.9,"x":0.81,"y":0.22},{"i":30,"p":0.9,"x":-0.48,"y":0.69},{"i":30,"p":0.9,"x":0.06,"y":0.35},{"i":30,"p":0.9,"x":0.69,"y":0.48},{"i":31,"p":0.9,"x":-0.42,"y":0.73},{"i":31,"p":0.9,"x":0.12,"y":0.26},{"i":31,"p":0.9,"x":0.83,"y":0.15},{"i":32,"p":0.9,"x":-0.64,"y":0.54},{"i":32,"p":0.9,"x":0.02,"y":0.02},{"i":32,"p":0.9,"x":0.69,"y":-0.48},{"i":33,"p":0.9,"x":-0.54,"y":0.64},{"i":33,"p":0.9,"x":0.03,"y":0.03},{"i":33,"p":0.9,"x":0.64,"y":-0.54},{"i":34,"p":0.9,"x":-0.42,"y":0.73},{"i":34,"p":0.9,"x":0.05,"y":0.04},{"i":34,"p":0.9,"x":0.59,"y":-0.59},{"i":35,"p":0.9,"x":-0.64,"y":0.54},{"i":35,"p":0.9,"x":-0.21,"y":-0.09},{"i":35,"p":0.9,"x":-0.07,"y":-0.84},{"i":36,"p":0.9,"x":-0.54,"y":0.64},{"i":36,"p":0.9,"x":-0.14,"y":-0.06},{"i":36,"p":0.9,"x":0.07,"y":-0.84},{"i":37,"p":0.9,"x":-0.42,"y":0.73},{"i":37,"p":0.9,"x":-0.06,"y":-0.02},{"i":37,"p":0.9,"x":0.22,"y":-0.81},{"i":38,"p":0.9,"x":0.36,"y":-0.76},{"i":38,"p":0.9,"x":0.04,"y":0.02},{"i":38,"p":0.9,"x":-0.22,"y":0.81},{"i":39,"p":0.9,"x":0.22,"y":-0.81},{"i":39,"p":0.9,"x":0.02,"y":0.01},{"i":39,"p":0.9,"x":-0.15,"y":0.83},{"i":40,"p":0.9,"x":0.07,"y":-0.84},{"i":40,"p":0.9,"x":0,"y":0},{"i":40,"p":0.9,"x":-0.07,"y":0.84},{"i":41,"p":0.9,"x":-0.07,"y":-0.84},{"i":41,"p":0.9,"x":-0.02,"y":0},{"i":41,"p":0.9,"x":0,"y":0.84},{"i":42,"p":0.9,"x":0.29,"y":-0.79},{"i":42,"p":0.9,"x":0.32,"y":-0.15},{"i":42,"p":0.9,"x":0.79,"y":0.29},{"i":43,"p":0.9,"x":0.15,"y":-0.83},{"i":43,"p":0.9,"x":0.29,"y":-0.18},{"i":43,"p":0.9,"x":0.81,"y":0.22},{"i":44,"p":0.9,"x":0,"y":-0.84},{"i":44,"p":0.9,"x":0.22,"y":-0.13},{"i":44,"p":0.9,"x":0.73,"y":0.42},{"i":45,"p":0.9,"x":-0.15,"y":-0.83},{"i":45,"p":0.9,"x":0.18,"y":-0.14},{"i":45,"p":0.9,"x":0.76,"y":0.36},{"i":46,"p":0.9,"x":0.83,"y":-0.15},{"i":46,"p":0.9,"x":0,"y":0},{"i":46,"p":0.9,"x":-0.83,"y":0.15},{"i":47,"p":0.9,"x":0.81,"y":-0.22},{"i":47,"p":0.9,"x":0,"y":0},{"i":47,"p":0.9,"x":-0.81,"y":0.22},{"i":48,"p":0.9,"x":0.79,"y":-0.29},{"i":48,"p":0.9,"x":0,"y":0},{"i":48,"p":0.9,"x":-0.79,"y":0.29},{"i":49,"p":0.9,"x":0.83,"y":-0.15},{"i":49,"p":0.9,"x":0.02,"y":0.06},{"i":49,"p":0.9,"x":-0.76,"y":0.36},{"i":50,"p":0.6,"x":0.29,"y":-0.79},{"i":50,"p":0.6,"x":0.29,"y":-0.38},{"i":50,"p":0.6,"x":0.69,"y":-0.48},{"i":51,"p":0.6,"x":0.07,"y":-0.84},{"i":51,"p":0.6,"x":0.21,"y":-0.41},{"i":51,"p":0.6,"x":0.64,"y":-0.54},{"i":52,"p":0.6,"x":-0.15,"y":-0.83},{"i":52,"p":0.6,"x":0.17,"y":-0.38},{"i":52,"p":0.6,"x":0.73,"y":-0.42},{"i":53,"p":0.9,"x":-0.83,"y":0.15},{"i":53,"p":0.9,"x":-0.32,"y":0.29},{"i":53,"p":0.9,"x":-0.22,"y":0.81},{"i":54,"p":0.9,"x":-0.79,"y":0.29},{"i":54,"p":0.9,"x":-0.26,"y":0.34},{"i":54,"p":0.9,"x":-0.07,"y":0.84},{"i":55,"p":0.9,"x":0.22,"y":-0.81},{"i":55,"p":0.9,"x":-0.17,"y":-0.16},{"i":55,"p":0.9,"x":-0.79,"y":0.29},{"i":56,"p":0.9,"x":0.07,"y":-0.84},{"i":56,"p":0.9,"x":-0.23,"y":-0.21},{"i":56,"p":0.9,"x":-0.83,"y":0.15},{"i":57,"p":0.9,"x":0.36,"y":-0.76},{"i":57,"p":0.9,"x":-0.12,"y":-0.12},{"i":57,"p":0.9,"x":-0.76,"y":0.36}],
"c3":[{"i":1,"p":0,"x":-0.84,"y":-0.07},{"i":1,"p":0,"x":-0.15,"y":-0.1},{"i":1,"p":0,"x":-0.54,"y":-0.64},{"i":2,"p":0.3,"x":-0.81,"y":-0.22},{"i":2,"p":0.3,"x":0,"y":0},{"i":2,"p":0.3,"x":0.81,"y":0.22},{"i":3,"p":0.35,"x":-0.79,"y":-0.29},{"i":3,"p":0.35,"x":0.05,"y":0.02},{"i":3,"p":0.35,"x":0.79,"y":0.29},{"i":4,"p":0.35,"x":-0.76,"y":-0.36},{"i":4,"p":0.35,"x":0.05,"y":-0.03},{"i":4,"p":0.35,"x":0.76,"y":0.36},{"i":5,"p":0.35,"x":-0.73,"y":-0.42},{"i":5,"p":0.35,"x":-0.03,"y":-0.25},{"i":5,"p":0.35,"x":0.64,"y":-0.54},{"i":6,"p":0.4,"x":-0.83,"y":-0.15},{"i":6,"p":0.4,"x":-0.08,"y":-0.2},{"i":6,"p":0.4,"x":0.54,"y":-0.64},{"i":7,"p":0.3,"x":-0.76,"y":-0.36},{"i":7,"p":0.3,"x":-0.3,"y":-0.3},{"i":7,"p":0.3,"x":-0.36,"y":-0.76},{"i":8,"p":0.3,"x":-0.81,"y":-0.22},{"i":8,"p":0.3,"x":-0.3,"y":-0.3},{"i":8,"p":0.3,"x":-0.22,"y":-0.81},{"i":10,"p":0.9,"x":0.29,"y":0.79},{"i":10,"p":0.9,"x":-0.15,"y":0.32},{"i":10,"p":0.9,"x":-0.79,"y":0.29},{"i":11,"p":0.9,"x":0.42,"y":0.73},{"i":11,"p":0.9,"x":-0.12,"y":0.26},{"i":11,"p":0.9,"x":-0.83,"y":0.15},{"i":12,"p":0.9,"x":0.54,"y":0.64},{"i":12,"p":0.9,"x":-0.09,"y":0.21},{"i":12,"p":0.9,"x":-0.84,"y":0.07},{"i":13,"p":0.9,"x":0.64,"y":0.54},{"i":13,"p":0.9,"x":-0.04,"y":0.27},{"i":13,"p":0.9,"x":-0.76,"y":0.36},{"i":14,"p":0.9,"x":0.36,"y":0.76},{"i":14,"p":0.9,"x":0.11,"y":-0.02},{"i":14,"p":0.9,"x":0,"y":-0.84},{"i":15,"p":0.9,"x":0.59,"y":0.59},{"i":15,"p":0.9,"x":0.22,"y":-0.07},{"i":15,"p":0.9,"x":0.15,"y":-0.83},{"i":16,"p":0.85,"x":-0.64,"y":0.54},{"i":16,"p":0.85,"x":0.05,"y":0.25},{"i":16,"p":0.85,"x":0.79,"y":0.29},{"i":17,"p":0.85,"x":-0.54,"y":0.64},{"i":17,"p":0.85,"x":0.06,"y":0.32},{"i":17,"p":0.85,"x":0.73,"y":0.42},{"i":18,"p":0.9,"x":-0.59,"y":0.59},{"i":18,"p":0.9,"x":0.03,"y":0.03},{"i":18,"p":0.9,"x":0.69,"y":-0.48},{"i":19,"p":0.9,"x":-0.42,"y":0.73},{"i":19,"p":0.9,"x":0.04,"y":0.03},{"i":19,"p":0.9,"x":0.54,"y":-0.64},{"i":20,"p":0.9,"x":-0.22,"y":0.81},{"i":20,"p":0.9,"x":-0.09,"y":-0.01},{"i":20,"p":0.9,"x":-0.07,"y":-0.84},{"i":21,"p":0.9,"x":-0.07,"y":0.84},{"i":21,"p":0.9,"x":0,"y":0},{"i":21,"p":0.9,"x":0.07,"y":-0.84},{"i":22,"p":0.6,"x":-0.15,"y":0.83},{"i":22,"p":0.6,"x":0.17,"y":0.38},{"i":22,"p":0.6,"x":0.73,"y":0.42},{"i":23,"p":0.9,"x":0.83,"y":-0.15},{"i":23,"p":0.9,"x":0.01,"y":0.02},{"i":23,"p":0.9,"x":-0.81,"y":0.22},{"i":24,"p":0.9,"x":0.79,"y":-0.29},{"i":24,"p":0.9,"x":0.01,"y":0.02},{"i":24,"p":0.9,"x":-0.76,"y":0.36},{"i":25,"p":0.5,"x":0.15,"y":-0.83},{"i":25,"p":0.5,"x":0.24,"y":-0.41},{"i":25,"p":0.5,"x":0.64,"y":-0.54},{"i":26,"p":0.8,"x":-0.22,"y":-0.81},{"i":26,"p":0.8,"x":-0.13,"y":0},{"i":26,"p":0.8,"x":-0.22,"y":0.81}],
"c4":[{"i":1,"p":0,"x":-0.69,"y":-0.48},{"i":1,"p":0,"x":0.05,"y":-0.12},{"i":1,"p":0,"x":0.83,"y":0.15},{"i":2,"p":0,"x":-0.69,"y":-0.48},{"i":2,"p":0,"x":-0.1,"y":-0.35},{"i":2,"p":0,"x":-0.29,"y":-0.79},{"i":3,"p":0.25,"x":-0.73,"y":-0.42},{"i":3,"p":0.25,"x":-0.1,"y":-0.05},{"i":3,"p":0.25,"x":-0.07,"y":0.84},{"i":4,"p":0.35,"x":-0.59,"y":-0.59},{"i":4,"p":0.35,"x":0.06,"y":-0.09},{"i":4,"p":0.35,"x":0.79,"y":0.29},{"i":5,"p":0.9,"x":0.22,"y":0.81},{"i":5,"p":0.9,"x":-0.19,"y":0.24},{"i":5,"p":0.9,"x":-0.84,"y":0},{"i":6,"p":0.9,"x":0.36,"y":0.76},{"i":6,"p":0.9,"x":-0.14,"y":0.29},{"i":6,"p":0.9,"x":-0.81,"y":0.22},{"i":7,"p":0.9,"x":0.54,"y":0.64},{"i":7,"p":0.9,"x":-0.09,"y":0.17},{"i":7,"p":0.9,"x":-0.84,"y":-0.07},{"i":8,"p":0.9,"x":-0.73,"y":0.42},{"i":8,"p":0.9,"x":0,"y":0.25},{"i":8,"p":0.9,"x":0.73,"y":0.42},{"i":9,"p":0.9,"x":-0.64,"y":0.54},{"i":9,"p":0.9,"x":0.05,"y":0.25},{"i":9,"p":0.9,"x":0.79,"y":0.29},{"i":10,"p":0.9,"x":-0.54,"y":0.64},{"i":10,"p":0.9,"x":0.07,"y":0.08},{"i":10,"p":0.9,"x":0.76,"y":-0.36},{"i":11,"p":0.9,"x":-0.42,"y":0.73},{"i":11,"p":0.9,"x":0.07,"y":0.06},{"i":11,"p":0.9,"x":0.64,"y":-0.54},{"i":12,"p":0.9,"x":-0.22,"y":0.81},{"i":12,"p":0.9,"x":-0.11,"y":-0.01},{"i":12,"p":0.9,"x":-0.15,"y":-0.83},{"i":13,"p":0.9,"x":-0.15,"y":0.83},{"i":13,"p":0.9,"x":0,"y":0},{"i":13,"p":0.9,"x":0.15,"y":-0.83},{"i":14,"p":0.9,"x":0.83,"y":-0.15},{"i":14,"p":0.9,"x":0,"y":0},{"i":14,"p":0.9,"x":-0.83,"y":0.15},{"i":15,"p":0.9,"x":0.79,"y":-0.29},{"i":15,"p":0.9,"x":0.01,"y":0.02},{"i":15,"p":0.9,"x":-0.76,"y":0.36},{"i":16,"p":0.9,"x":0.48,"y":0.69},{"i":16,"p":0.9,"x":0.21,"y":-0.04},{"i":16,"p":0.9,"x":0.22,"y":-0.81},{"i":17,"p":0.9,"x":0.22,"y":-0.81},{"i":17,"p":0.9,"x":0.27,"y":-0.39},{"i":17,"p":0.9,"x":0.69,"y":-0.48},{"i":18,"p":0.9,"x":0,"y":-0.84},{"i":18,"p":0.9,"x":0.19,"y":-0.41},{"i":18,"p":0.9,"x":0.64,"y":-0.54},{"i":19,"p":0.9,"x":-0.48,"y":-0.69},{"i":19,"p":0.9,"x":-0.37,"y":-0.1},{"i":19,"p":0.9,"x":-0.76,"y":0.36}],
"tn":[{"id":1,"t":0,"v":1},{"id":1,"t":1,"v":1.2},{"id":2,"t":0,"v":1},{"id":2,"t":1,"v":1.07},{"id":3,"t":0,"v":1},{"id":3,"t":1,"v":0.95},{"id":4,"t":0,"v":1},{"id":4,"t":1,"v":0.92},{"id":5,"t":0,"v":1},{"id":5,"t":1,"v":0.87}],
"cx":[{"id":1,"t":0,"v":1},{"id":1,"t":1,"v":2.15},{"id":2,"t":0,"v":1},{"id":2,"t":1,"v":2.12},{"id":3,"t":0,"v":1},{"id":3,"t":1,"v":2},{"id":4,"t":0,"v":1},{"id":4,"t":1,"v":1.95},{"id":5,"t":0,"v":1},{"id":5,"t":1,"v":1.9},{"id":6,"t":0,"v":1},{"id":6,"t":1,"v":1.22}]
},
"resolve":{"scale":{"color":"independent","stroke":"independent"},"legend":{"color":"independent","stroke":"independent"}},
"bounds":"flush","spacing":376,"vconcat":[
{"resolve":{"scale":{"color":"independent","stroke":"independent"},"legend":{"color":"independent","stroke":"independent"}},"bounds":"flush","spacing":425,"hconcat":[
 {"resolve":{"scale":{"color":"independent","stroke":"independent"},"legend":{"color":"independent","stroke":"independent"}},"bounds":"flush","spacing":185,"vconcat":[
  {"resolve":{"scale":{"color":"independent","stroke":"independent"},"legend":{"color":"independent","stroke":"independent"}},"bounds":"flush","spacing":44,"hconcat":[
   {"width":120,"height":149,"layer":[
    {"data":{"name":"umapPB"},"mark":{"type":"point","filled":true,"opacity":0.85,"stroke":null},"encoding":{"x":{"field":"x","type":"quantitative","scale":{"domain":[-8.06,11.3],"nice":false,"zero":false},"axis":{"values":[-5,0,5,10],"title":"UMAP_1","gridColor":"white","domain":false,"ticks":false,"labelFontSize":10,"titleFontSize":10,"labelColor":"#444","titleColor":"#333","labelPadding":2,"titlePadding":2}},"y":{"field":"y","type":"quantitative","scale":{"domain":[-11.3,6.8],"nice":false,"zero":false},"axis":{"values":[-10,-5,0,5],"title":"UMAP_2","gridColor":"white","domain":false,"ticks":false,"labelFontSize":10,"titleFontSize":10,"labelColor":"#444","titleColor":"#333","labelPadding":2,"titlePadding":2}},"size":{"field":"n","type":"quantitative","legend":null,"scale":{"domain":[0,320],"range":[0,448]}},"color":{"field":"g","type":"nominal","legend":null,"scale":{"domain":["gray","salmon","tan","green","cyan","teal","magenta","orchid","blue","peri","gold","olive","lime","pink"],"range":["#bdbdbd","#e3a79c","#d8a56a","#8cc152","#12bcd6","#17b9ad","#ee6fd2","#cf8ff0","#8fc0e8","#8c9de8","#d9b43c","#a8b42a","#8bbf3c","#ee6f9f"]}}}},
    {"data":{"name":"labPB"},"mark":{"type":"text","fontWeight":"bold","fontSize":11,"color":"black"},"encoding":{"x":{"field":"x","type":"quantitative"},"y":{"field":"y","type":"quantitative"},"text":{"field":"t"}}},
    {"data":{"values":[{"x":-14.5,"y":7.29,"t":"PB"}]},"mark":{"type":"text","fontSize":13,"align":"left","color":"black"},"encoding":{"x":{"field":"x","type":"quantitative"},"y":{"field":"y","type":"quantitative"},"text":{"field":"t"}}},
    {"data":{"values":[{"x":-18.2,"y":7.29,"t":"a"}]},"mark":{"type":"text","fontSize":20,"fontWeight":"bold","align":"left","color":"black"},"encoding":{"x":{"field":"x","type":"quantitative"},"y":{"field":"y","type":"quantitative"},"text":{"field":"t"}}}
   ],"view":{"fill":"#ebebeb"}},
   {"width":168,"height":150,"data":{"name":"barsPB"},"mark":{"type":"bar","stroke":"white","strokeWidth":0.5},"encoding":{"x":{"field":"k","type":"ordinal","scale":{"domain":[1,2,3,4,5,6,7,8,9,10,11,12,13,14,15,16,17],"paddingInner":0.06,"paddingOuter":0.03},"axis":{"title":null,"labelAngle":-90,"labelFontSize":9.5,"labelColor":"#333","domainColor":"#ccc","tickColor":"#bbb","tickSize":2,"labelPadding":2}},"y":{"field":"v","type":"quantitative","stack":"zero","scale":{"domain":[-460,9400],"nice":false,"zero":false},"axis":{"values":[0,2500,5000,7500],"format":"d","title":"Numbers of TCR clonotypes","grid":false,"labelFontSize":10,"titleFontSize":10.5,"labelColor":"#333","titleColor":"#333","domainColor":"#777","tickColor":"#777","tickSize":3,"titlePadding":3}},"order":{"field":"n","sort":"descending"},"color":{"field":"pt","type":"nominal","scale":{"domain":["Pt_3","Pt_9","Pt_11","Pt_14","Pt_15","Pt_16","Pt_17","Pt_18"],"range":["#F8766D","#CD9600","#7CAE00","#00BE67","#00BFC4","#00A9FF","#C77CFF","#FF61CC"]},"legend":{"orient":"none","legendX":162,"legendY":33,"title":null,"symbolType":"square","symbolSize":130,"labelFontSize":10,"labelOffset":3,"rowPadding":0,"padding":0,"symbolStrokeWidth":0}}}}
  ]},
  {"resolve":{"scale":{"color":"independent","stroke":"independent"},"legend":{"color":"independent","stroke":"independent"}},"bounds":"flush","spacing":44,"hconcat":[
   {"width":120,"height":149,"layer":[
    {"data":{"name":"umapSF"},"mark":{"type":"point","filled":true,"opacity":0.85,"stroke":null},"encoding":{"x":{"field":"x","type":"quantitative","scale":{"domain":[-8.06,11.3],"nice":false,"zero":false},"axis":{"values":[-5,0,5,10],"title":"UMAP_1","gridColor":"white","domain":false,"ticks":false,"labelFontSize":10,"titleFontSize":10,"labelColor":"#444","titleColor":"#333","labelPadding":2,"titlePadding":2}},"y":{"field":"y","type":"quantitative","scale":{"domain":[-11.3,6.8],"nice":false,"zero":false},"axis":{"values":[-10,-5,0,5],"title":"UMAP_2","gridColor":"white","domain":false,"ticks":false,"labelFontSize":10,"titleFontSize":10,"labelColor":"#444","titleColor":"#333","labelPadding":2,"titlePadding":2}},"size":{"field":"n","type":"quantitative","legend":null,"scale":{"domain":[0,320],"range":[0,448]}},"color":{"field":"g","type":"nominal","legend":null,"scale":{"domain":["gray","salmon","tan","green","cyan","teal","magenta","orchid","blue","peri","gold","olive","lime","pink"],"range":["#bdbdbd","#e3a79c","#d8a56a","#8cc152","#12bcd6","#17b9ad","#ee6fd2","#cf8ff0","#8fc0e8","#8c9de8","#d9b43c","#a8b42a","#8bbf3c","#ee6f9f"]}}}},
    {"data":{"name":"labSF"},"mark":{"type":"text","fontWeight":"bold","fontSize":11,"color":"black"},"encoding":{"x":{"field":"x","type":"quantitative"},"y":{"field":"y","type":"quantitative"},"text":{"field":"t"}}},
    {"data":{"values":[{"x":-14.5,"y":7.29,"t":"SF"}]},"mark":{"type":"text","fontSize":13,"align":"left","color":"black"},"encoding":{"x":{"field":"x","type":"quantitative"},"y":{"field":"y","type":"quantitative"},"text":{"field":"t"}}}
   ],"view":{"fill":"#ebebeb"}},
   {"width":167,"height":150,"data":{"name":"barsSF"},"mark":{"type":"bar","stroke":"white","strokeWidth":0.5},"encoding":{"x":{"field":"k","type":"ordinal","scale":{"domain":[1,2,3,4,5,6,7,8,9,10,11,12,13,14,15,16,17],"paddingInner":0.06,"paddingOuter":0.03},"axis":{"title":null,"labelAngle":-90,"labelFontSize":9.5,"labelColor":"#333","domainColor":"#ccc","tickColor":"#bbb","tickSize":2,"labelPadding":2}},"y":{"field":"v","type":"quantitative","stack":"zero","scale":{"domain":[-76,1803],"nice":false,"zero":false},"axis":{"values":[0,500,1000,1500],"format":"d","title":"Numbers of TCR clonotypes","grid":false,"labelFontSize":10,"titleFontSize":10.5,"labelColor":"#333","titleColor":"#333","domainColor":"#777","tickColor":"#777","tickSize":3,"titlePadding":3}},"order":{"field":"n","sort":"descending"},"color":{"field":"pt","type":"nominal","scale":{"domain":["Pt_3","Pt_9","Pt_11","Pt_14","Pt_15","Pt_16","Pt_17","Pt_18"],"range":["#F8766D","#CD9600","#7CAE00","#00BE67","#00BFC4","#00A9FF","#C77CFF","#FF61CC"]},"legend":{"orient":"none","legendX":162,"legendY":33,"title":null,"symbolType":"square","symbolSize":130,"labelFontSize":10,"labelOffset":3,"rowPadding":0,"padding":0,"symbolStrokeWidth":0}}}}
  ]}
 ]},
 {"resolve":{"scale":{"color":"independent","stroke":"independent"},"legend":{"color":"independent","stroke":"independent"}},"bounds":"flush","spacing":0,"vconcat":[
  {"width":1,"height":6,"data":{"values":[{"s":1}]},"mark":{"type":"point","opacity":0},"encoding":{}},
  {"resolve":{"scale":{"color":"independent","stroke":"independent"},"legend":{"color":"independent","stroke":"independent"}},"bounds":"flush","spacing":0,"hconcat":[
   {"width":26,"height":283,"data":{"name":"table"},"layer":[{"mark":{"type":"rect","fill":"white","stroke":"black","strokeWidth":1},"encoding":{"y":{"field":"n","type":"ordinal","axis":null,"scale":{"paddingInner":0,"paddingOuter":0}}}},{"mark":{"type":"text","fontSize":12,"color":"#111"},"encoding":{"y":{"field":"n","type":"ordinal","axis":null},"text":{"field":"n"}}}]},
   {"width":226,"height":283,"data":{"name":"table"},"layer":[{"mark":{"type":"rect","fill":"white","stroke":"black","strokeWidth":1},"encoding":{"y":{"field":"n","type":"ordinal","axis":null,"scale":{"paddingInner":0,"paddingOuter":0}}}},{"mark":{"type":"text","fontSize":12.5,"color":"#111"},"encoding":{"y":{"field":"n","type":"ordinal","axis":null},"text":{"field":"t"}}}]}
  ]}
 ]}
]},
{"resolve":{"scale":{"color":"independent","stroke":"independent"},"legend":{"color":"independent","stroke":"independent"}},"bounds":"flush","spacing":496,"vconcat":[
 {"resolve":{"scale":{"color":"independent","stroke":"independent"},"legend":{"color":"independent","stroke":"independent"}},"bounds":"flush","spacing":0,"hconcat":[
  {"width":110,"height":1,"data":{"values":[{"s":1}]},"mark":{"type":"point","opacity":0},"encoding":{}},
  {"width":291,"height":291,"data":{"name":"heat"},"title":{"text":"b","anchor":"start","frame":"group","fontSize":20,"fontWeight":"bold","dx":-173,"offset":-2},
   "encoding":{"x":{"field":"c","type":"ordinal","scale":{"paddingInner":0,"paddingOuter":0},"axis":{"title":null,"ticks":false,"domain":false,"labelAngle":-90,"labelAlign":"right","labelBaseline":"middle","labelFontSize":10.4,"labelColor":"#222","labelPadding":5,"labelLimit":300,"labelExpr":"['','CD69ˡᵒ Naive CD4⁺ T','CD69ʰⁱ Naive CD4⁺ T','Th1 and Th17-like','Treg','PD-1ʰⁱ CXCL13⁺ T','Naïve CD8⁺ T','Central Memory CD8⁺ T','CXCR3ʰⁱ CXCR6ʰⁱ Effector CD8⁺ T','CXCR3ʰⁱ CXCR6ˡᵒ Effector CD8⁺ T','CX3CR1ʰⁱ Effector CD8⁺ T','CX3CR1ˡᵒ Effector CD8⁺ T','Cycling T','MAIT','CX3CR1ˡᵒ γδ T','CX3CR1ʰⁱ γδ T','CD16ʰⁱ NK and NK T','CD16ˡᵒ NK and NK T'][datum.value]"}},"y":{"field":"r","type":"ordinal","scale":{"paddingInner":0,"paddingOuter":0},"axis":{"title":null,"ticks":false,"domain":false,"labelFontSize":10.4,"labelColor":"#222","labelPadding":5,"labelLimit":300,"labelExpr":"['','CD69ˡᵒ Naive CD4⁺ T','CD69ʰⁱ Naive CD4⁺ T','Th1 and Th17-like','Treg','PD-1ʰⁱ CXCL13⁺ T','Naïve CD8⁺ T','Central Memory CD8⁺ T','CXCR3ʰⁱ CXCR6ʰⁱ Effector CD8⁺ T','CXCR3ʰⁱ CXCR6ˡᵒ Effector CD8⁺ T','CX3CR1ʰⁱ Effector CD8⁺ T','CX3CR1ˡᵒ Effector CD8⁺ T','Cycling T','MAIT','CX3CR1ˡᵒ γδ T','CX3CR1ʰⁱ γδ T','CD16ʰⁱ NK and NK T','CD16ˡᵒ NK and NK T'][datum.value]"}}},
   "layer":[
    {"transform":[{"filter":"datum.v===null"}],"mark":{"type":"rect","fill":"#a6a6a6","stroke":"#c8d8e8","strokeWidth":0.4}},
    {"transform":[{"filter":"datum.v!==null"}],"mark":{"type":"rect","stroke":"#c8d8e8","strokeWidth":0.4,"strokeOpacity":0.6},"encoding":{"color":{"field":"v","type":"quantitative","scale":{"domain":[0,100,190,300,400],"range":["#1a6eb5","#7ea3cf","#f2f2f2","#eea87a","#d65f0d"]},"legend":{"orient":"none","legendX":-154,"legendY":422,"direction":"horizontal","title":"# clonotypes","gradientLength":55,"gradientThickness":11,"values":[0,400],"titleFontSize":9.5,"labelFontSize":8.5,"titlePadding":2,"padding":0}}}},
    {"transform":[{"filter":"datum.s"}],"mark":{"type":"rect","filled":false,"width":14,"height":14,"strokeWidth":1.7},"encoding":{"stroke":{"field":"s","type":"nominal","scale":{"domain":[0.05,0.01,0.001],"range":["#f0b000","#e8101c","#5fe02c"]},"legend":{"orient":"none","legendX":-80,"legendY":422,"title":null,"symbolType":"square","symbolSize":25,"symbolStrokeWidth":1.6,"symbolFillColor":"white","labelFontSize":8.5,"labelOffset":2,"rowPadding":1,"padding":0,"labelExpr":"'P<'+datum.label"}}}},
    {"transform":[{"filter":"datum.v!==null"}],"mark":{"type":"text","fontSize":6.5,"color":"#22303f"},"encoding":{"text":{"field":"v","type":"quantitative"}}},
    {"transform":[{"filter":"datum.v===null"}],"mark":{"type":"text","fontSize":6.5,"color":"#333","text":"NA"}}
   ]},
  {"width":14,"height":1,"data":{"values":[{"s":1}]},"mark":{"type":"point","opacity":0},"encoding":{}},
  {"resolve":{"scale":{"color":"independent","stroke":"independent"},"legend":{"color":"independent","stroke":"independent"}},"bounds":"flush","spacing":0,"vconcat":[
   {"width":1,"height":42,"data":{"values":[{"s":1}]},"mark":{"type":"point","opacity":0},"encoding":{}},
   {"resolve":{"scale":{"color":"independent","stroke":"independent"},"legend":{"color":"independent","stroke":"independent"}},"bounds":"flush","spacing":207,"vconcat":[
    {"resolve":{"scale":{"color":"independent","stroke":"independent"},"legend":{"color":"independent","stroke":"independent"}},"bounds":"flush","spacing":17,"hconcat":[
     {"width":150,"height":150,"resolve":{"scale":{"color":"independent"}},"layer":[
      {"data":{"name":"arcs1"},"mark":{"type":"arc"},"encoding":{"theta":{"field":"a0","type":"quantitative","scale":{"domain":[0,360],"range":[0,6.2832]}},"theta2":{"field":"a1"},"radius":{"field":"r0","type":"quantitative","scale":{"domain":[0,1.0714],"range":[0,75]}},"radius2":{"field":"r1"},"color":{"field":"s","type":"nominal","legend":null,"scale":{"domain":["T","B","gd","My","NK","ring","rec"],"range":["#e8837a","#d77fe0","#2bb58f","#b5b02c","#2ba8dc","#bcdde8","#2f5f66"]}}}},
      {"data":{"name":"c1"},"mark":{"type":"line","interpolate":"basis","opacity":0.85},"encoding":{"x":{"field":"x","type":"quantitative","axis":null,"scale":{"domain":[-1.0714,1.0714],"nice":false,"zero":false}},"y":{"field":"y","type":"quantitative","axis":null,"scale":{"domain":[-1.0714,1.0714],"nice":false,"zero":false}},"detail":{"field":"i","type":"nominal"},"order":{"value":null},"color":{"field":"p","type":"quantitative","legend":null,"scale":{"domain":[0,0.4,1],"range":["#e60f1e","#a8506e","#3c3ca8"]}},"strokeWidth":{"field":"p","type":"quantitative","legend":null,"scale":{"domain":[0,0.1,1],"range":[1.9,0.9,0.55]}}}},
      {"data":{"values":[{"x":0.83,"y":0.15},{"x":-0.29,"y":-0.79}]},"mark":{"type":"point","filled":true,"size":12,"color":"#e60f1e","opacity":1},"encoding":{"x":{"field":"x","type":"quantitative"},"y":{"field":"y","type":"quantitative"}}},
      {"data":{"name":"lab1"},"mark":{"type":"text","fontSize":7,"color":"#333"},"encoding":{"theta":{"field":"th","type":"quantitative"},"radius":{"field":"r","type":"quantitative"},"angle":{"field":"th","type":"quantitative","scale":{"domain":[0,360],"range":[0,360]}},"text":{"field":"t"}}},
      {"data":{"values":[{"x":1.21,"y":1.52,"t":"CXCL9/10/11 → CXCR3"},{"x":0.04,"y":1.31,"t":"PB"}]},"mark":{"type":"text","fontSize":13,"color":"#111"},"encoding":{"x":{"field":"x","type":"quantitative"},"y":{"field":"y","type":"quantitative"},"text":{"field":"t"}}},
      {"data":{"values":[{"x":-1.07,"y":1.7,"t":"c"}]},"mark":{"type":"text","fontSize":20,"fontWeight":"bold","align":"left","color":"black"},"encoding":{"x":{"field":"x","type":"quantitative"},"y":{"field":"y","type":"quantitative"},"text":{"field":"t"}}}
     ]},
     {"width":150,"height":150,"resolve":{"scale":{"color":"independent"}},"layer":[
      {"data":{"name":"arcs2"},"mark":{"type":"arc"},"encoding":{"theta":{"field":"a0","type":"quantitative","scale":{"domain":[0,360],"range":[0,6.2832]}},"theta2":{"field":"a1"},"radius":{"field":"r0","type":"quantitative","scale":{"domain":[0,1.0714],"range":[0,75]}},"radius2":{"field":"r1"},"color":{"field":"s","type":"nominal","legend":null,"scale":{"domain":["T","B","gd","My","NK","ring","rec"],"range":["#e8837a","#d77fe0","#2bb58f","#b5b02c","#2ba8dc","#bcdde8","#2f5f66"]}}}},
      {"data":{"name":"c2"},"mark":{"type":"line","interpolate":"basis","opacity":0.85},"encoding":{"x":{"field":"x","type":"quantitative","axis":null,"scale":{"domain":[-1.0714,1.0714],"nice":false,"zero":false}},"y":{"field":"y","type":"quantitative","axis":null,"scale":{"domain":[-1.0714,1.0714],"nice":false,"zero":false}},"detail":{"field":"i","type":"nominal"},"order":{"value":null},"color":{"field":"p","type":"quantitative","legend":null,"scale":{"domain":[0,0.4,1],"range":["#e60f1e","#a8506e","#3c3ca8"]}},"strokeWidth":{"field":"p","type":"quantitative","legend":null,"scale":{"domain":[0,0.1,1],"range":[1.9,0.9,0.55]}}}},
      {"data":{"values":[{"x":0.83,"y":0.15},{"x":0.84,"y":0.07},{"x":0.07,"y":0.84},{"x":0,"y":0.84},{"x":-0.48,"y":-0.69},{"x":-0.42,"y":-0.73}]},"mark":{"type":"point","filled":true,"size":12,"color":"#e60f1e","opacity":1},"encoding":{"x":{"field":"x","type":"quantitative"},"y":{"field":"y","type":"quantitative"}}},
      {"data":{"name":"lab2"},"mark":{"type":"text","fontSize":7,"color":"#333"},"encoding":{"theta":{"field":"th","type":"quantitative"},"radius":{"field":"r","type":"quantitative"},"angle":{"field":"th","type":"quantitative","scale":{"domain":[0,360],"range":[0,360]}},"text":{"field":"t"}}},
      {"data":{"values":[{"x":-0.03,"y":1.31,"t":"SF"}]},"mark":{"type":"text","fontSize":13,"color":"#111"},"encoding":{"x":{"field":"x","type":"quantitative"},"y":{"field":"y","type":"quantitative"},"text":{"field":"t"}}}
     ]}
    ]},
    {"resolve":{"scale":{"color":"independent","stroke":"independent"},"legend":{"color":"independent","stroke":"independent"}},"bounds":"flush","spacing":17,"hconcat":[
     {"width":150,"height":150,"resolve":{"scale":{"color":"independent"}},"layer":[
      {"data":{"name":"arcs3"},"mark":{"type":"arc"},"encoding":{"theta":{"field":"a0","type":"quantitative","scale":{"domain":[0,360],"range":[0,6.2832]}},"theta2":{"field":"a1"},"radius":{"field":"r0","type":"quantitative","scale":{"domain":[0,1.0714],"range":[0,75]}},"radius2":{"field":"r1"},"color":{"field":"s","type":"nominal","legend":null,"scale":{"domain":["T","B","gd","My","NK","ring","rec"],"range":["#e8837a","#d77fe0","#2bb58f","#b5b02c","#2ba8dc","#bcdde8","#2f5f66"]}}}},
      {"data":{"name":"c3"},"mark":{"type":"line","interpolate":"basis","opacity":0.85},"encoding":{"x":{"field":"x","type":"quantitative","axis":null,"scale":{"domain":[-1.0714,1.0714],"nice":false,"zero":false}},"y":{"field":"y","type":"quantitative","axis":null,"scale":{"domain":[-1.0714,1.0714],"nice":false,"zero":false}},"detail":{"field":"i","type":"nominal"},"order":{"value":null},"color":{"field":"p","type":"quantitative","legend":null,"scale":{"domain":[0,0.4,1],"range":["#e60f1e","#a8506e","#3c3ca8"]}},"strokeWidth":{"field":"p","type":"quantitative","legend":null,"scale":{"domain":[0,0.1,1],"range":[1.9,0.9,0.55]}}}},
      {"data":{"values":[{"x":-0.54,"y":-0.64}]},"mark":{"type":"point","filled":true,"size":12,"color":"#e60f1e","opacity":1},"encoding":{"x":{"field":"x","type":"quantitative"},"y":{"field":"y","type":"quantitative"}}},
      {"data":{"name":"lab3"},"mark":{"type":"text","fontSize":7,"color":"#333"},"encoding":{"theta":{"field":"th","type":"quantitative"},"radius":{"field":"r","type":"quantitative"},"angle":{"field":"th","type":"quantitative","scale":{"domain":[0,360],"range":[0,360]}},"text":{"field":"t"}}},
      {"data":{"values":[{"x":1.2,"y":1.46,"t":"CXCL16 → CXCR6"},{"x":0.04,"y":1.27,"t":"PB"}]},"mark":{"type":"text","fontSize":13,"color":"#111"},"encoding":{"x":{"field":"x","type":"quantitative"},"y":{"field":"y","type":"quantitative"},"text":{"field":"t"}}}
     ]},
     {"width":150,"height":150,"resolve":{"scale":{"color":"independent"}},"layer":[
      {"data":{"name":"arcs4"},"mark":{"type":"arc"},"encoding":{"theta":{"field":"a0","type":"quantitative","scale":{"domain":[0,360],"range":[0,6.2832]}},"theta2":{"field":"a1"},"radius":{"field":"r0","type":"quantitative","scale":{"domain":[0,1.0714],"range":[0,75]}},"radius2":{"field":"r1"},"color":{"field":"s","type":"nominal","legend":null,"scale":{"domain":["T","B","gd","My","NK","ring","rec"],"range":["#e8837a","#d77fe0","#2bb58f","#b5b02c","#2ba8dc","#bcdde8","#2f5f66"]}}}},
      {"data":{"name":"c4"},"mark":{"type":"line","interpolate":"basis","opacity":0.85},"encoding":{"x":{"field":"x","type":"quantitative","axis":null,"scale":{"domain":[-1.0714,1.0714],"nice":false,"zero":false}},"y":{"field":"y","type":"quantitative","axis":null,"scale":{"domain":[-1.0714,1.0714],"nice":false,"zero":false}},"detail":{"field":"i","type":"nominal"},"order":{"value":null},"color":{"field":"p","type":"quantitative","scale":{"domain":[0,0.4,1],"range":["#e60f1e","#a8506e","#3c3ca8"]},"legend":{"orient":"none","legendX":77,"legendY":156,"direction":"horizontal","title":"P value","titleAnchor":"middle","titleFontSize":7,"labelFontSize":7.5,"gradientLength":47,"gradientThickness":6,"values":[0,1],"format":"d","padding":0,"titlePadding":1}},"strokeWidth":{"field":"p","type":"quantitative","legend":null,"scale":{"domain":[0,0.1,1],"range":[1.9,0.9,0.55]}}}},
      {"data":{"values":[{"x":0.83,"y":0.15},{"x":-0.29,"y":-0.79}]},"mark":{"type":"point","filled":true,"size":12,"color":"#e60f1e","opacity":1},"encoding":{"x":{"field":"x","type":"quantitative"},"y":{"field":"y","type":"quantitative"}}},
      {"data":{"name":"lab4"},"mark":{"type":"text","fontSize":7,"color":"#333"},"encoding":{"theta":{"field":"th","type":"quantitative"},"radius":{"field":"r","type":"quantitative"},"angle":{"field":"th","type":"quantitative","scale":{"domain":[0,360],"range":[0,360]}},"text":{"field":"t"}}},
      {"data":{"values":[{"x":-0.03,"y":1.27,"t":"SF"}]},"mark":{"type":"text","fontSize":13,"color":"#111"},"encoding":{"x":{"field":"x","type":"quantitative"},"y":{"field":"y","type":"quantitative"},"text":{"field":"t"}}}
     ]}
    ]}
   ]}
  ]}
 ]},
 {"resolve":{"scale":{"color":"independent","stroke":"independent"},"legend":{"color":"independent","stroke":"independent"}},"bounds":"flush","spacing":0,"hconcat":[
  {"width":236,"height":1,"data":{"values":[{"s":1}]},"mark":{"type":"point","opacity":0},"encoding":{}},
  {"width":67,"height":107,"resolve":{"axis":{"x":"independent","y":"independent"}},"layer":[
   {"data":{"name":"tn"},"mark":{"type":"point","filled":true,"size":14,"color":"black","opacity":1},"encoding":{"x":{"field":"t","type":"quantitative","scale":{"domain":[-0.68,1.71],"nice":false,"zero":false},"axis":{"values":[0,1],"labelExpr":"datum.value==0?'-':'+'","title":null,"grid":false,"labelFontSize":13,"labelPadding":5,"tickSize":5,"domainColor":"#333","tickColor":"#333","domainWidth":1.3,"tickWidth":1.3,"labelColor":"#111"}},"y":{"field":"v","type":"quantitative","scale":{"domain":[0,2.5],"nice":false},"axis":{"values":[0,0.5,1,1.5,2,2.5],"format":".1f","labelOverlap":false,"labelFlush":false,"labelBound":false,"title":"Ratio","titleFontSize":13,"grid":false,"labelFontSize":8.5,"labelFontWeight":"bold","tickSize":4,"domainColor":"#333","tickColor":"#333","domainWidth":1.3,"tickWidth":1.3,"labelColor":"#111","titleColor":"#111","titlePadding":3}}}},
   {"data":{"name":"tn"},"mark":{"type":"line","color":"#222","strokeWidth":1},"encoding":{"x":{"field":"t","type":"quantitative","axis":null},"y":{"field":"v","type":"quantitative","axis":null},"detail":{"field":"id","type":"nominal"}}},
   {"data":{"values":[{"a":0,"b":1,"y":2.12}]},"mark":{"type":"rule","color":"#222","strokeWidth":1},"encoding":{"x":{"field":"a","type":"quantitative","axis":null},"x2":{"field":"b"},"y":{"field":"y","type":"quantitative","axis":null}}},
   {"data":{"values":[{"x":0.54,"y":2.78,"t":"Tn"},{"x":0.54,"y":2.24,"t":"n.s."}]},"mark":{"type":"text","fontSize":12.5,"color":"#111"},"encoding":{"x":{"field":"x","type":"quantitative","axis":null},"y":{"field":"y","type":"quantitative","axis":null},"text":{"field":"t"}}},
   {"data":{"values":[{"x":-0.6,"y":-0.39,"t":"CXCL9/10/11/16"}]},"mark":{"type":"text","fontSize":12.5,"align":"right","color":"#111"},"encoding":{"x":{"field":"x","type":"quantitative","axis":null},"y":{"field":"y","type":"quantitative","axis":null},"text":{"field":"t"}}},
   {"data":{"values":[{"x":-1.96,"y":2.92,"t":"d"}]},"mark":{"type":"text","fontSize":20,"fontWeight":"bold","align":"left","color":"black"},"encoding":{"x":{"field":"x","type":"quantitative","axis":null},"y":{"field":"y","type":"quantitative","axis":null},"text":{"field":"t"}}}
  ]},
  {"width":37,"height":1,"data":{"values":[{"s":1}]},"mark":{"type":"point","opacity":0},"encoding":{}},
  {"width":66,"height":107,"resolve":{"axis":{"x":"independent","y":"independent"}},"layer":[
   {"data":{"name":"cx"},"mark":{"type":"point","filled":true,"size":14,"color":"black","opacity":1},"encoding":{"x":{"field":"t","type":"quantitative","scale":{"domain":[-0.64,1.71],"nice":false,"zero":false},"axis":{"values":[0,1],"labelExpr":"datum.value==0?'-':'+'","title":null,"grid":false,"labelFontSize":13,"labelPadding":5,"tickSize":5,"domainColor":"#333","tickColor":"#333","domainWidth":1.3,"tickWidth":1.3,"labelColor":"#111"}},"y":{"field":"v","type":"quantitative","scale":{"domain":[0,2.5],"nice":false},"axis":{"values":[0,0.5,1,1.5,2,2.5],"format":".1f","labelOverlap":false,"labelFlush":false,"labelBound":false,"title":"Ratio","titleFontSize":13,"grid":false,"labelFontSize":8.5,"labelFontWeight":"bold","tickSize":4,"domainColor":"#333","tickColor":"#333","domainWidth":1.3,"tickWidth":1.3,"labelColor":"#111","titleColor":"#111","titlePadding":3}}}},
   {"data":{"name":"cx"},"mark":{"type":"line","color":"#111","strokeWidth":1.5},"encoding":{"x":{"field":"t","type":"quantitative","axis":null},"y":{"field":"v","type":"quantitative","axis":null},"detail":{"field":"id","type":"nominal"}}},
   {"data":{"values":[{"a":-0.07,"b":1,"y":2.32}]},"mark":{"type":"rule","color":"#222","strokeWidth":1},"encoding":{"x":{"field":"a","type":"quantitative","axis":null},"x2":{"field":"b"},"y":{"field":"y","type":"quantitative","axis":null}}},
   {"data":{"values":[{"x":0.5,"y":2.78,"t":"CX3CR1ʰⁱ"},{"x":0.47,"y":2.37,"t":"**"}]},"mark":{"type":"text","fontSize":12.5,"color":"#111"},"encoding":{"x":{"field":"x","type":"quantitative","axis":null},"y":{"field":"y","type":"quantitative","axis":null},"text":{"field":"t"}}}
  ]}
 ]}
]}
]}
